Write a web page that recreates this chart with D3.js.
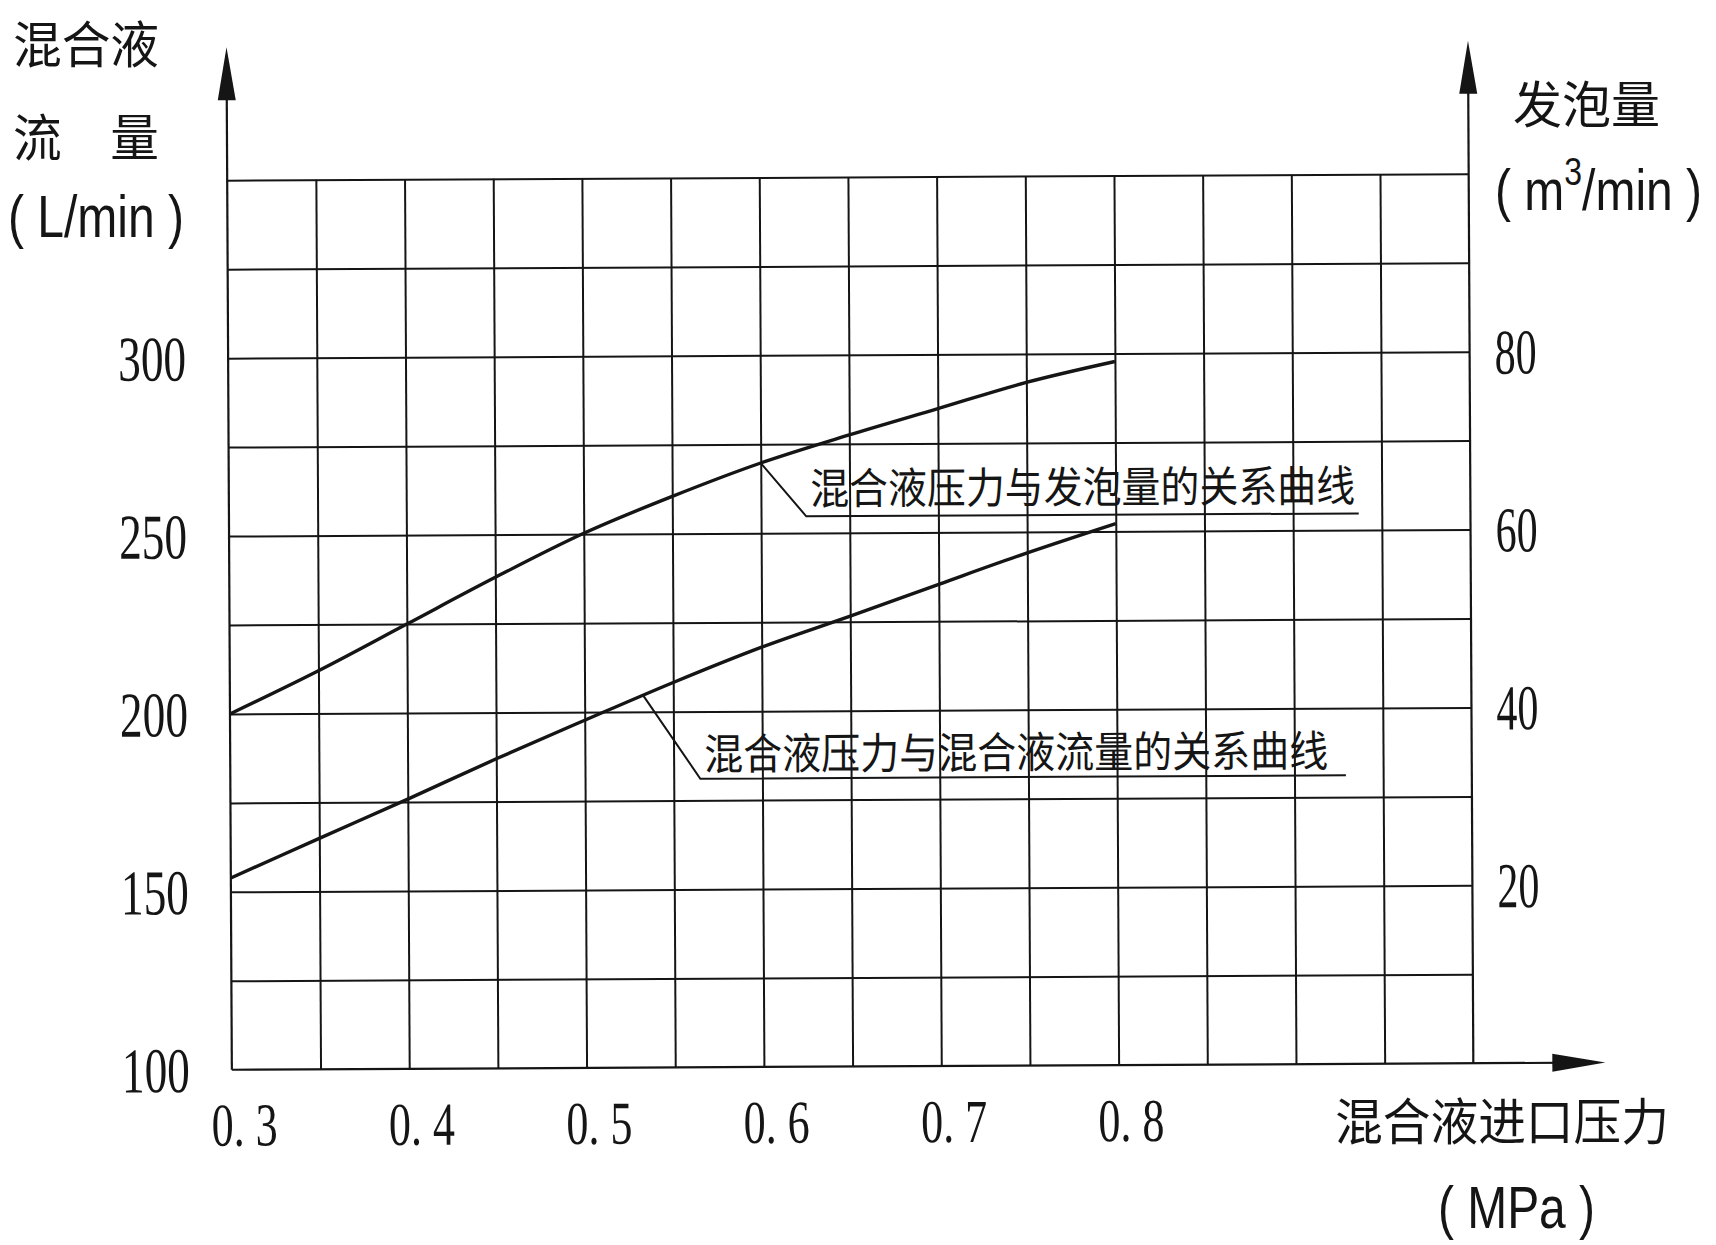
<!DOCTYPE html>
<html><head><meta charset="utf-8">
<script src="https://cdn.jsdelivr.net/npm/d3@7"></script>
<style>html,body{margin:0;padding:0;background:#fff;} svg{display:block;}</style>
</head><body>
<svg id="chart" width="1716" height="1245"></svg>
<script>
// ---- data ----
const pressure = [0.30, 0.35, 0.40, 0.45, 0.50, 0.55, 0.60, 0.65, 0.70, 0.75, 0.80];      // MPa
const foamRate = [40.0, 44.8, 50.0, 55.2, 60.1, 64.2, 67.9, 71.0, 73.9, 76.8, 79.1];       // m3/min (right axis)
const mixFlow  = [153.9, 164.9, 175.8, 187.0, 197.7, 208.2, 218.0, 226.6, 235.4, 244.1, 252.2]; // L/min (left axis)
const xTicks = [0.3, 0.4, 0.5, 0.6, 0.7, 0.8];
const yLeftTicks = [100, 150, 200, 250, 300];
const yRightTicks = [20, 40, 60, 80];
const foamNoteText = "混合液压力与发泡量的关系曲线";
const flowNoteText = "混合液压力与混合液流量的关系曲线";

// ---- setup ----
const W = 1716, H = 1245;
const ink = "#151515";
const cjk = "'Noto Sans CJK SC','Noto Sans CJK JP',sans-serif";
const serif = "'Liberation Serif','DejaVu Serif',serif";
const sans = "'Liberation Sans',Arial,sans-serif";
const svg = d3.select("#chart");
svg.append("rect").attr("width", W).attr("height", H).attr("fill", "#fff");

const x = d3.scaleLinear().domain([0.3, 1.0]).range([229.5, 1471]);
const yL = d3.scaleLinear().domain([100, 350]).range([1066.5, 177]);
const yR = d3.scaleLinear().domain([0, 100]).range([1066.5, 177]);

// slight scan tilt of the original drawing
const g = svg.append("g").attr("transform", "rotate(-0.3,850,620)");

const gridX = d3.range(7, 20).map(i => +(i * 0.05).toFixed(2));   // 0.35 .. 0.95
const gridY = d3.range(5, 15).map(i => i * 25);                    // 125 .. 350

// vertical grid lines via axis
const gv = g.append("g").attr("transform", `translate(0,${yL(100)})`)
  .call(d3.axisBottom(x).tickValues(gridX).tickSize(-(yL(100) - yL(350))).tickFormat(""));
gv.select(".domain").remove();
gv.selectAll("line").attr("stroke", ink).attr("stroke-width", 2);

// horizontal grid lines via axis
const gh = g.append("g").attr("transform", `translate(${x(0.3)},0)`)
  .call(d3.axisLeft(yL).tickValues(gridY).tickSize(-(x(1.0) - x(0.3))).tickFormat(""));
gh.select(".domain").remove();
gh.selectAll("line").attr("stroke", ink).attr("stroke-width", 2);

// axes lines with arrows
const tipY = 44, arrowLen = 53, arrowHalf = 9;
function vArrowAxis(px) {
  g.append("line").attr("x1", px).attr("x2", px).attr("y1", yL(100)).attr("y2", tipY + 20)
    .attr("stroke", ink).attr("stroke-width", 2.2);
  g.append("path").attr("d", `M${px},${tipY} L${px - arrowHalf},${tipY + arrowLen} L${px + arrowHalf},${tipY + arrowLen} Z`)
    .attr("fill", ink);
}
vArrowAxis(x(0.3));
vArrowAxis(x(1.0));
const tipX = 1603;
g.append("line").attr("x1", x(0.3)).attr("x2", tipX - 20).attr("y1", yL(100)).attr("y2", yL(100))
  .attr("stroke", ink).attr("stroke-width", 2.2);
g.append("path").attr("d", `M${tipX},${yL(100)} L${tipX - arrowLen},${yL(100) - arrowHalf} L${tipX - arrowLen},${yL(100) + arrowHalf} Z`)
  .attr("fill", ink);

// tick labels
const la = g.append("g").attr("transform", `translate(${x(0.3)},0)`)
  .call(d3.axisLeft(yL).tickValues(yLeftTicks).tickSize(0).tickPadding(42).tickFormat(d3.format("d")));
la.select(".domain").remove();
la.selectAll("text").attr("font-family", serif).attr("font-size", 64).attr("fill", ink)
  .attr("dy", "0.338em").attr("textLength", 68).attr("lengthAdjust", "spacingAndGlyphs");

const ra = g.append("g").attr("transform", `translate(${x(1.0)},0)`)
  .call(d3.axisRight(yR).tickValues(yRightTicks).tickSize(0).tickPadding(25).tickFormat(d3.format("d")));
ra.select(".domain").remove();
ra.selectAll("text").attr("font-family", serif).attr("font-size", 64).attr("fill", ink)
  .attr("dy", "0.338em").attr("textLength", 42).attr("lengthAdjust", "spacingAndGlyphs");

const ba = g.append("g").attr("transform", `translate(0,${yL(100)})`)
  .call(d3.axisBottom(x).tickValues(xTicks).tickSize(0).tickFormat(d => d3.format(".1f")(d).replace(".", ". ")));
ba.select(".domain").remove();
ba.selectAll("text").attr("font-family", serif).attr("font-size", 61).attr("fill", ink)
  .attr("y", 76).attr("dy", 0).attr("dx", 12)
  .attr("textLength", 66).attr("lengthAdjust", "spacingAndGlyphs");

// curves
const line = d3.line().curve(d3.curveCatmullRom.alpha(0.5));
const foamPts = pressure.map((p, i) => [x(p), yR(foamRate[i])]);
const flowPts = pressure.map((p, i) => [x(p), yL(mixFlow[i])]);
g.append("path").attr("d", line(foamPts)).attr("fill", "none").attr("stroke", ink).attr("stroke-width", 3.4);
g.append("path").attr("d", line(flowPts)).attr("fill", "none").attr("stroke", ink).attr("stroke-width", 3.4);

// annotations (leader + underline + text)
function note(anchorP, anchorY, elbowP, elbowV, endP, text, textLen, textOffset) {
  const ex = x(elbowP), ey = yL(elbowV);
  g.append("path").attr("d", `M${x(anchorP)},${anchorY} L${ex},${ey} L${x(endP)},${ey}`)
    .attr("fill", "none").attr("stroke", ink).attr("stroke-width", 2);
  g.append("text").attr("x", ex + 4).attr("y", ey - textOffset)
    .attr("font-family", cjk).attr("font-size", 43).attr("fill", ink)
    .attr("dominant-baseline", "central")
    .attr("textLength", textLen).attr("lengthAdjust", "spacingAndGlyphs")
    .text(text);
}
note(0.6, yR(foamRate[6]), 0.6255, 254.7, 0.937, foamNoteText, 545, 31);
const flowAt533 = d3.scaleLinear().domain([0.5, 0.55]).range([mixFlow[4], mixFlow[5]])(0.533);
note(0.533, yL(flowAt533), 0.565, 181.1, 0.929, flowNoteText, 624, 28);

// axis titles
function cjkText(tx, ty, str, size, len) {
  svg.append("text").attr("x", tx).attr("y", ty).attr("font-family", cjk).attr("font-size", size)
    .attr("fill", ink).attr("dominant-baseline", "central")
    .attr("textLength", len).attr("lengthAdjust", "spacingAndGlyphs").text(str);
}
cjkText(13, 41, "混合液", 50, 146);
cjkText(13, 134, "流\u3000量", 50, 146);
cjkText(1513, 101, "发泡量", 50, 147);
cjkText(1335, 1118, "混合液进口压力", 50, 334);

// Latin unit labels: narrow, tall glyphs (stretched vertically about the baseline)
function latin(tx, ty, len, str, size) {
  const t = svg.append("text").attr("x", 0).attr("y", 0)
    .attr("transform", `translate(${tx},${ty}) scale(1,1.15)`)
    .attr("font-family", sans).attr("font-size", size).attr("fill", ink).text(str);
  if (len) t.attr("textLength", len).attr("lengthAdjust", "spacingAndGlyphs");
}
latin(8, 237, 176, "( L/min )", 51);
latin(1438, 1228, 157, "( MPa )", 51);

// m³/min as one text element with a raised "3"
const unitR = svg.append("text").attr("x", 0).attr("y", 0)
  .attr("transform", "translate(1495,210) scale(1,1.2)")
  .attr("font-family", sans).attr("font-size", 48).attr("fill", ink);
unitR.append("tspan").text("( m");
unitR.append("tspan").attr("font-size", 32).attr("dy", -21).text("3");
unitR.append("tspan").attr("dy", 21).text("/min )");
</script>
</body></html>
